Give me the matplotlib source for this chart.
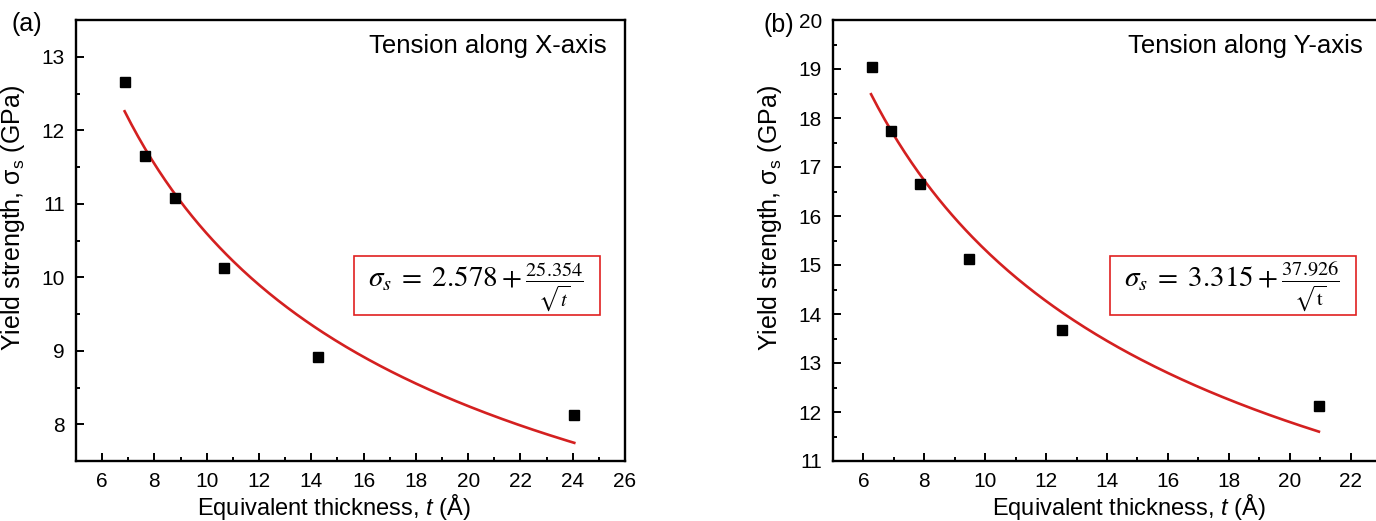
import numpy as np
import matplotlib
matplotlib.use("Agg")
import matplotlib.pyplot as plt
from matplotlib.patches import Rectangle
from matplotlib.ticker import MultipleLocator

plt.rcParams["font.family"] = ["Liberation Sans", "DejaVu Sans"]
plt.rcParams["mathtext.fontset"] = "custom"
plt.rcParams["mathtext.rm"] = "Liberation Sans"
plt.rcParams["mathtext.it"] = "Liberation Sans:italic"

# panel (a): tension along X
t_x = [6.88, 7.65, 8.80, 10.67, 14.26, 24.06]
ys_x = [12.66, 11.65, 11.08, 10.13, 8.91, 8.12]
fit_x = (2.578, 25.354)

# panel (b): tension along Y
t_y = [6.27, 6.92, 7.87, 9.46, 12.51, 20.96]
ys_y = [19.04, 17.74, 16.65, 15.12, 13.68, 12.12]
fit_y = (3.315, 37.926)

W, H = 1376, 521
fig = plt.figure(figsize=(W / 100, H / 100), dpi=100)

ax_a = fig.add_axes([76 / W, (H - 461) / H, 549 / W, 441 / H])
ax_b = fig.add_axes([833 / W, (H - 461) / H, 548 / W, 441 / H])


def style_axes(ax, xlim, ylim, xmajor, ymajor, yminor):
    ax.set_xlim(*xlim)
    ax.set_ylim(*ylim)
    ax.xaxis.set_major_locator(MultipleLocator(xmajor))
    ax.xaxis.set_minor_locator(MultipleLocator(xmajor / 2))
    ax.yaxis.set_major_locator(MultipleLocator(ymajor))
    ax.yaxis.set_minor_locator(MultipleLocator(yminor))
    ax.tick_params(which="both", direction="in", top=False, right=False,
                   labelsize=15, width=1.4, pad=8)
    ax.tick_params(which="major", length=6)
    ax.tick_params(which="minor", length=3)
    for s in ax.spines.values():
        s.set_linewidth(1.7)
    ax.set_xlabel(r"Equivalent thickness, $t$ (Å)", fontsize=17)
    ax.set_ylabel(r"Yield strength, σ$_\mathregular{s}$ (GPa)", fontsize=18)
    ax.yaxis.set_label_coords(-0.089, 0.55)


def draw_panel(ax, t, ys, fit, title, eq):
    a, b = fit
    tt = np.linspace(min(t) - 0.02, max(t), 200)
    ax.plot(tt, a + b / np.sqrt(tt), color="#d42020", lw=1.9, zorder=2)
    ax.plot(t, ys, "s", color="black", ms=6.5, zorder=3)
    ax.text(0.967, 0.94, title, transform=ax.transAxes, ha="right",
            va="center", fontsize=18.5)
    ax.add_patch(Rectangle((0.506, 0.33), 0.448, 0.135, transform=ax.transAxes,
                           fill=False, edgecolor="#e02020", lw=1.2, zorder=4))
    ax.text(0.728, 0.395, eq, transform=ax.transAxes, ha="center", va="center",
            fontsize=21, math_fontfamily="stix")


style_axes(ax_a, (5, 26), (7.5, 13.5), 2, 1, 0.5)
draw_panel(ax_a, t_x, ys_x, fit_x, "Tension along X-axis",
           r"$\sigma_s\;=\;2.578+\frac{25.354}{\sqrt{t}}$")
ax_a.xaxis.set_label_coords(0.47, -0.07)

style_axes(ax_b, (5, 23), (11, 20), 2, 1, 0.5)
draw_panel(ax_b, t_y, ys_y, fit_y, "Tension along Y-axis",
           r"$\sigma_s\;=\;3.315+\frac{37.926}{\sqrt{\mathrm{t}}}$")
ax_b.xaxis.set_label_coords(0.54, -0.07)
ax_b.spines["right"].set_visible(False)

fig.text(27 / W, 1 - 24 / H, "(a)", fontsize=18, ha="center", va="center")
fig.text(779 / W, 1 - 25 / H, "(b)", fontsize=18, ha="center", va="center")

fig.savefig("out.png", dpi=100)
